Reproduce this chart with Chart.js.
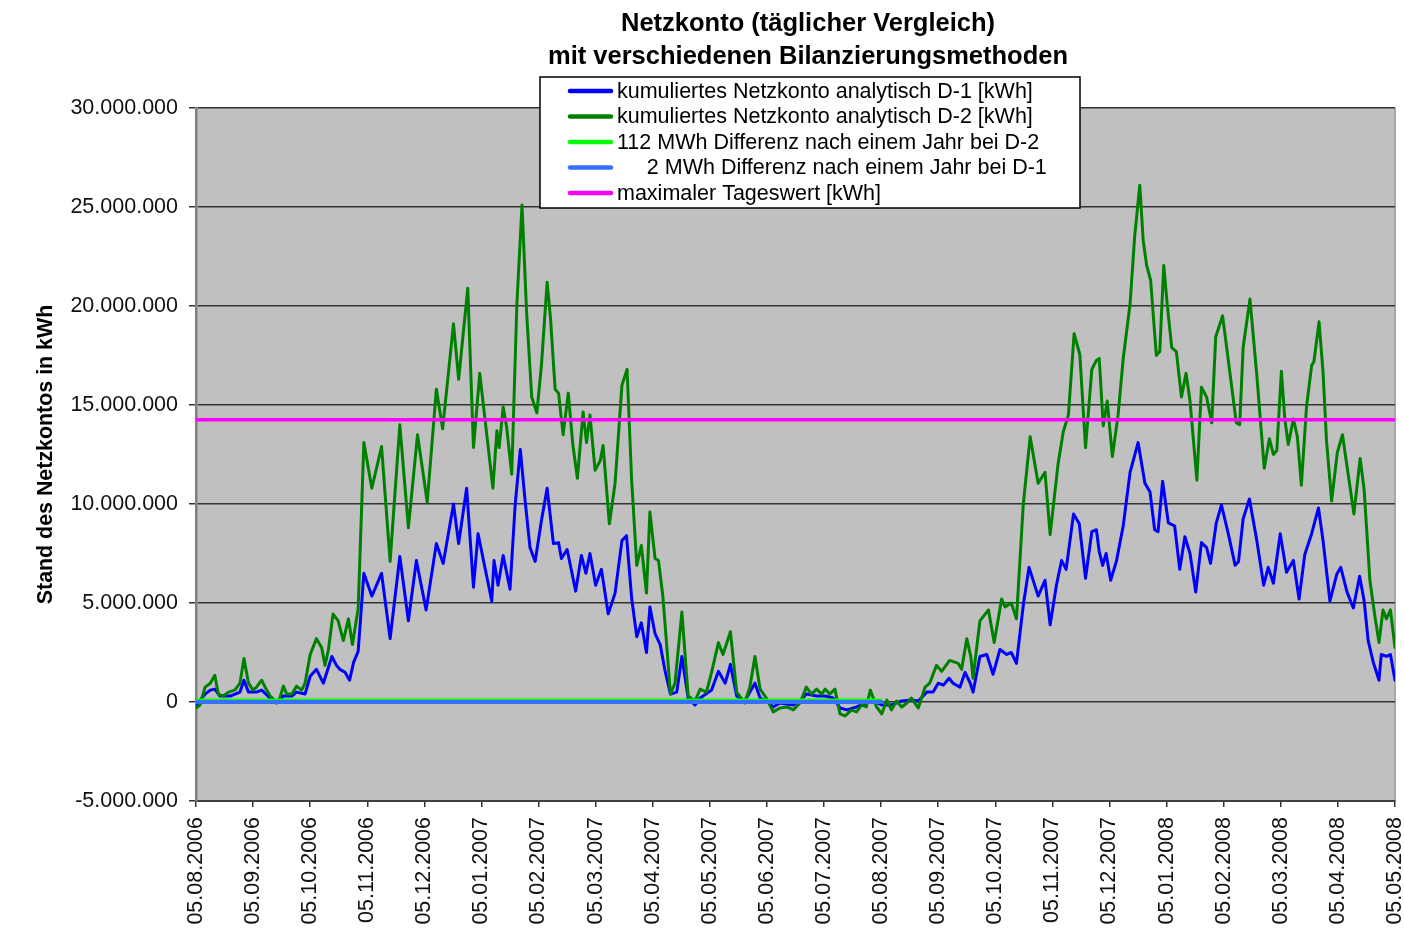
<!DOCTYPE html>
<html><head><meta charset="utf-8">
<script src="https://cdn.jsdelivr.net/npm/chart.js@4/dist/chart.umd.min.js"></script>
<style>html,body{margin:0;padding:0;background:#fff;}canvas{display:block;}</style>
</head><body>
<canvas id="c" width="1404" height="945"></canvas>
<script>
const chartTitle = ['Netzkonto (täglicher Vergleich)', 'mit verschiedenen Bilanzierungsmethoden'];
const yAxisTitle = 'Stand des Netzkontos in kWh';
const dateLabels = ['05.08.2006','05.09.2006','05.10.2006','05.11.2006','05.12.2006','05.01.2007','05.02.2007','05.03.2007','05.04.2007','05.05.2007','05.06.2007','05.07.2007','05.08.2007','05.09.2007','05.10.2007','05.11.2007','05.12.2007','05.01.2008','05.02.2008','05.03.2008','05.04.2008','05.05.2008'];
const seriesNames = ['kumuliertes Netzkonto analytisch D-1 [kWh]','kumuliertes Netzkonto analytisch D-2 [kWh]','112 MWh Differenz nach einem Jahr bei D-2','     2 MWh Differenz nach einem Jahr bei D-1','maximaler Tageswert [kWh]'];

// x: months since 05.08.2006, values in Mio. kWh
const d1Month = [0,0.16,0.25,0.33,0.42,0.6,0.77,0.84,0.92,1.06,1.15,1.3,1.41,1.53,1.68,1.76,1.91,2.0,2.11,2.23,2.38,2.46,2.52,2.61,2.69,2.76,2.84,2.94,3.08,3.25,3.4,3.57,3.72,3.86,4.03,4.21,4.33,4.51,4.6,4.74,4.86,4.94,5.18,5.22,5.29,5.38,5.5,5.59,5.68,5.76,5.85,5.94,6.05,6.15,6.26,6.35,6.4,6.5,6.65,6.75,6.83,6.9,7.0,7.1,7.22,7.34,7.46,7.54,7.63,7.72,7.8,7.89,7.95,8.04,8.13,8.21,8.31,8.42,8.51,8.62,8.74,8.83,9.03,9.15,9.27,9.36,9.47,9.61,9.79,9.88,9.99,10.11,10.23,10.46,10.58,10.69,10.87,11.02,11.16,11.28,11.4,11.57,11.74,11.86,12.01,12.18,12.36,12.53,12.65,12.8,12.91,13.0,13.09,13.19,13.26,13.38,13.47,13.56,13.61,13.73,13.85,13.96,14.08,14.2,14.28,14.37,14.49,14.59,14.75,14.87,14.96,15.07,15.16,15.24,15.37,15.47,15.58,15.69,15.77,15.82,15.88,15.94,16.02,16.12,16.24,16.36,16.5,16.62,16.71,16.79,16.85,16.93,17.03,17.14,17.23,17.32,17.41,17.51,17.61,17.7,17.77,17.87,17.96,18.08,18.2,18.26,18.34,18.45,18.58,18.7,18.78,18.87,18.99,19.1,19.22,19.32,19.42,19.54,19.66,19.74,19.86,19.98,20.05,20.16,20.27,20.38,20.46,20.53,20.62,20.72,20.76,20.85,20.92,21.0];
const d1Mio = [-0.15,0.4,0.6,0.65,0.3,0.3,0.5,1.1,0.5,0.5,0.6,0.2,-0.05,0.3,0.3,0.5,0.4,1.3,1.65,0.95,2.3,1.85,1.65,1.5,1.1,2.0,2.55,6.5,5.35,6.5,3.2,7.35,4.1,7.15,4.65,8.0,7.0,10.0,8.0,10.8,5.8,8.5,5.1,7.15,5.9,7.4,5.7,9.95,12.75,10.3,7.8,7.1,9.15,10.8,8.0,8.05,7.25,7.7,5.6,7.4,6.5,7.5,5.9,6.7,4.45,5.5,8.15,8.4,5.25,3.3,4.0,2.5,4.8,3.45,2.9,1.65,0.4,0.5,2.3,0.2,-0.15,0.2,0.6,1.55,0.95,1.9,0.3,0.05,0.95,0.2,0.05,-0.25,-0.05,-0.15,0.05,0.4,0.3,0.3,0.2,-0.3,-0.4,-0.25,-0.05,0.05,-0.15,-0.15,0.05,0.1,0.05,0.5,0.5,0.95,0.85,1.2,0.95,0.75,1.5,0.95,0.5,2.3,2.4,1.4,2.65,2.4,2.5,1.95,4.9,6.8,5.35,6.15,3.9,5.9,7.15,6.7,9.5,9.0,6.25,8.6,8.7,7.6,6.9,7.5,6.15,7.1,8.9,11.6,13.1,11.05,10.6,8.7,8.6,11.15,9.05,8.9,6.7,8.35,7.5,5.55,8.05,7.8,7.0,9.05,9.95,8.5,6.9,7.1,9.25,10.25,8.15,5.9,6.8,6.0,8.5,6.55,7.15,5.2,7.45,8.5,9.8,8.15,5.1,6.45,6.8,5.55,4.75,6.35,5.1,3.1,2.0,1.1,2.4,2.3,2.4,1.1];

const d2Month = [0,0.07,0.16,0.25,0.33,0.39,0.48,0.57,0.68,0.77,0.84,0.92,1.0,1.06,1.15,1.21,1.3,1.41,1.47,1.53,1.59,1.68,1.76,1.85,1.91,2.0,2.11,2.2,2.26,2.32,2.4,2.49,2.58,2.67,2.74,2.84,2.94,3.08,3.25,3.4,3.57,3.72,3.88,4.05,4.21,4.32,4.51,4.6,4.76,4.86,4.97,5.2,5.27,5.31,5.38,5.44,5.53,5.62,5.71,5.79,5.88,5.97,6.05,6.15,6.21,6.29,6.35,6.43,6.52,6.6,6.68,6.78,6.84,6.9,6.99,7.08,7.13,7.24,7.34,7.46,7.55,7.63,7.72,7.8,7.89,7.95,8.04,8.1,8.18,8.31,8.39,8.51,8.62,8.74,8.83,8.94,9.03,9.15,9.23,9.36,9.47,9.61,9.7,9.79,9.88,9.99,10.11,10.23,10.35,10.46,10.58,10.69,10.78,10.87,10.96,11.02,11.1,11.19,11.28,11.37,11.48,11.57,11.66,11.74,11.81,11.92,12.01,12.1,12.18,12.27,12.36,12.45,12.53,12.65,12.77,12.85,12.97,13.06,13.2,13.35,13.41,13.5,13.57,13.61,13.73,13.88,13.98,14.11,14.17,14.28,14.37,14.49,14.61,14.75,14.87,14.96,15.1,15.19,15.28,15.38,15.48,15.58,15.69,15.77,15.82,15.89,15.96,16.05,16.15,16.24,16.36,16.44,16.53,16.59,16.65,16.72,16.82,16.88,16.95,17.01,17.09,17.17,17.26,17.34,17.41,17.53,17.61,17.7,17.79,17.86,17.98,18.11,18.22,18.28,18.34,18.46,18.58,18.71,18.8,18.87,18.93,19.01,19.07,19.13,19.22,19.29,19.36,19.45,19.54,19.58,19.67,19.74,19.8,19.89,19.99,20.08,20.18,20.28,20.39,20.46,20.56,20.65,20.72,20.79,20.85,20.92,21.0];
const d2Mio = [-0.3,-0.15,0.75,0.95,1.35,0.4,0.3,0.5,0.6,0.95,2.2,0.95,0.6,0.75,1.1,0.75,0.3,0.0,0.2,0.8,0.4,0.4,0.8,0.6,0.95,2.4,3.2,2.75,1.85,2.65,4.45,4.1,3.1,4.2,2.9,4.7,13.1,10.8,12.9,7.1,14.0,8.8,13.5,10.1,15.8,13.8,19.1,16.3,20.9,12.85,16.6,10.8,13.7,12.85,14.9,13.9,11.5,20.1,25.1,19.7,15.4,14.6,17.0,21.2,19.35,15.8,15.6,13.5,15.6,13.0,11.3,14.65,13.1,14.5,11.7,12.2,12.95,9.0,11.05,16.0,16.8,11.2,6.9,7.9,5.5,9.6,7.25,7.15,5.25,0.4,0.95,4.55,0.3,0.05,0.65,0.5,1.5,3.0,2.4,3.55,0.5,-0.05,0.75,2.3,0.65,0.2,-0.5,-0.3,-0.25,-0.4,-0.05,0.75,0.4,0.65,0.4,0.65,0.4,0.65,-0.6,-0.7,-0.4,-0.5,-0.15,-0.25,0.6,-0.25,-0.6,0.1,-0.4,0.05,-0.25,-0.05,0.2,-0.3,0.75,0.95,1.85,1.55,2.1,1.95,1.65,3.2,2.3,1.2,4.1,4.65,3.0,5.2,4.8,5.0,4.2,10.0,13.4,11.05,11.6,8.45,12.05,13.65,14.5,18.6,17.55,12.85,16.8,17.25,17.35,13.95,15.2,12.4,14.5,17.35,20.1,23.5,26.1,23.3,22.05,21.3,17.5,17.7,22.05,20.1,17.9,17.7,15.4,16.6,15.2,11.2,15.9,15.4,14.1,18.45,19.5,16.6,14.1,14.0,17.9,20.35,16.5,11.8,13.3,12.5,12.7,16.7,14.3,13.0,14.3,13.4,10.95,14.9,17.0,17.2,19.2,16.65,13.2,10.15,12.6,13.5,11.5,9.5,12.3,10.7,6.15,4.3,3.0,4.65,4.2,4.65,2.75];

const diffD2Mio = 0.112;     // 112 MWh
const diffD1Mio = 0.002;     // 2 MWh
const diffSpanMonths = 12;   // one year
const maxDailyMio = 14.25;
const yMin = -5000000, yMax = 30000000, yStep = 5000000;

const colors = ['#0000FF','#008000','#00FF00','#3370FF','#FF00FF'];
const toPts = (xs, ys) => xs.map((x, i) => ({x: x, y: ys[i] * 1e6}));
const flat = (v, x1) => [{x: 0, y: v * 1e6}, {x: x1, y: v * 1e6}];

function fmtDE(v) {
  const s = Math.abs(Math.round(v)).toString().replace(/\B(?=(\d{3})+(?!\d))/g, '.');
  return (v < 0 ? '-' : '') + s;
}

const FONT = "'Liberation Sans', Arial, sans-serif";

const decor = {
  id: 'decor',
  beforeDraw(chart) {
    const {ctx, chartArea: a} = chart;
    ctx.save();
    ctx.fillStyle = '#ffffff';
    ctx.fillRect(0, 0, chart.width, chart.height);
    ctx.fillStyle = '#C0C0C0';
    ctx.fillRect(a.left, a.top, a.right - a.left, a.bottom - a.top);
    ctx.strokeStyle = '#A8A8A8';
    ctx.lineWidth = 2;
    ctx.beginPath(); ctx.moveTo(a.right, a.top); ctx.lineTo(a.right, a.bottom); ctx.stroke();
    ctx.restore();
  },
  afterDraw(chart) {
    const {ctx} = chart;
    ctx.save();
    // title
    ctx.fillStyle = '#000';
    ctx.font = "bold 25.5px " + FONT;
    ctx.textAlign = 'center';
    ctx.textBaseline = 'alphabetic';
    ctx.fillText(chartTitle[0], 808, 31);
    ctx.fillText(chartTitle[1], 808, 64);
    // legend
    const bx = 540, by = 77, bw = 540, bh = 131;
    ctx.fillStyle = '#fff';
    ctx.fillRect(bx, by, bw, bh);
    ctx.strokeStyle = '#000';
    ctx.lineWidth = 1.5;
    ctx.strokeRect(bx, by, bw, bh);
    ctx.font = "21.5px " + FONT;
    ctx.textAlign = 'left';
    ctx.textBaseline = 'middle';
    chart.data.datasets.forEach((ds, i) => {
      const y = by + 14 + i * 25.5;
      ctx.strokeStyle = ds.borderColor;
      ctx.lineWidth = 4.5;
      ctx.lineCap = 'round';
      ctx.beginPath(); ctx.moveTo(570, y); ctx.lineTo(611, y); ctx.stroke();
      ctx.fillStyle = '#000';
      ctx.fillText(ds.label, 617, y + 1);
    });
    ctx.restore();
  }
};

const common = {pointRadius: 0, pointHoverRadius: 0, tension: 0, fill: false, borderJoinStyle: 'round', borderCapStyle: 'round'};

new Chart(document.getElementById('c'), {
  type: 'line',
  data: {
    datasets: [
      Object.assign({label: seriesNames[0], data: toPts(d1Month, d1Mio), borderColor: colors[0], borderWidth: 3, order: 5}, common),
      Object.assign({label: seriesNames[1], data: toPts(d2Month, d2Mio), borderColor: colors[1], borderWidth: 3, order: 4}, common),
      Object.assign({label: seriesNames[2], data: flat(diffD2Mio, diffSpanMonths), borderColor: colors[2], borderWidth: 2.5, order: 3}, common),
      Object.assign({label: seriesNames[3], data: flat(diffD1Mio, diffSpanMonths), borderColor: colors[3], borderWidth: 4, order: 2}, common),
      Object.assign({label: seriesNames[4], data: flat(maxDailyMio, dateLabels.length - 1), borderColor: colors[4], borderWidth: 3.5, order: 1}, common)
    ]
  },
  options: {
    responsive: false,
    devicePixelRatio: 1,
    animation: false,
    events: [],
    layout: {padding: {left: 0, top: 108, right: 9, bottom: 0}},
    plugins: {legend: {display: false}, title: {display: false}, tooltip: {enabled: false}},
    scales: {
      x: {
        type: 'linear', min: 0, max: dateLabels.length - 1,
        afterBuildTicks(scale) { scale.ticks = dateLabels.map((_, i) => ({value: i})); },
        afterFit(scale) { scale.height = 144; scale.paddingLeft = 0; scale.paddingRight = 0; },
        ticks: {
          autoSkip: false, maxRotation: 90, minRotation: 90, padding: 10, color: '#111',
          font: {family: FONT, size: 21.5},
          callback: (v) => dateLabels[Math.round(v)]
        },
        grid: {display: true, drawOnChartArea: false, drawTicks: true, tickLength: 6, color: '#333', lineWidth: 1.5},
        border: {display: true, color: '#404040', width: 2}
      },
      y: {
        type: 'linear', min: yMin, max: yMax,
        afterBuildTicks(scale) {
          const t = [];
          for (let v = yMin; v <= yMax; v += yStep) t.push({value: v});
          scale.ticks = t;
        },
        afterFit(scale) { scale.width = 196; scale.paddingTop = 0; scale.paddingBottom = 0; },
        ticks: {padding: 11, color: '#111', font: {family: FONT, size: 21.5}, callback: (v) => fmtDE(v)},
        grid: {color: '#333', lineWidth: 1.5, tickLength: 7},
        border: {display: true, color: '#808080', width: 2.5},
        title: {display: true, text: yAxisTitle, color: '#000', font: {family: FONT, size: 21.4, weight: 'bold'}, padding: {top: 33, bottom: 0}}
      }
    }
  },
  plugins: [decor]
});
</script>
</body></html>
